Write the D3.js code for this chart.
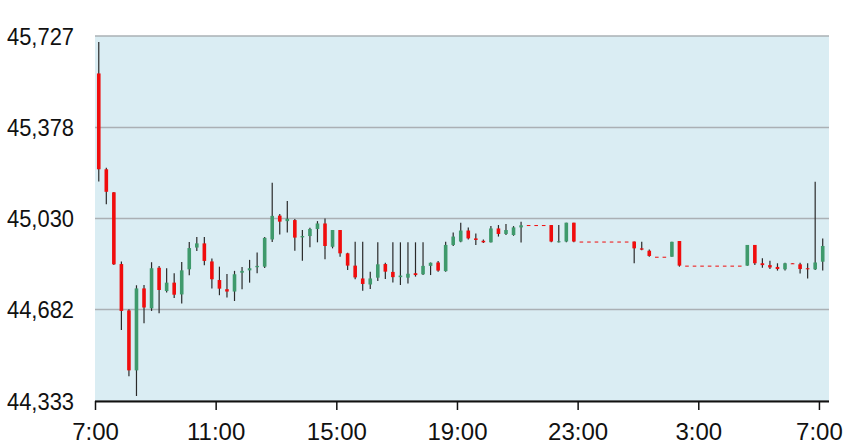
<!DOCTYPE html>
<html><head><meta charset="utf-8">
<script src="https://cdn.jsdelivr.net/npm/d3@7/dist/d3.min.js"></script>
<style>body{margin:0;background:#fff}svg{display:block}text{font-family:"Liberation Sans",Arial,sans-serif}</style>
</head><body><svg id="c" width="858" height="445"></svg>
<script>
const times = ["07:00","07:15","07:30","07:45","08:00","08:15","08:30","08:45","09:00","09:15","09:30","09:45",
"10:00","10:15","10:30","10:45","11:00","11:15","11:30","11:45","12:00","12:15","12:30","12:45",
"13:00","13:15","13:30","13:45","14:00","14:15","14:30","14:45","15:00","15:15","15:30","15:45",
"16:00","16:15","16:30","16:45","17:00","17:15","17:30","17:45","18:00","18:15","18:30","18:45",
"19:00","19:15","19:30","19:45","20:00","20:15","20:30","20:45","21:00","21:15","21:30","21:45",
"22:00","22:15","22:30","22:45","23:00","23:15","23:30","23:45","00:00","00:15","00:30","00:45",
"01:00","01:15","01:30","01:45","02:00","02:15","02:30","02:45","03:00","03:15","03:30","03:45",
"04:00","04:15","04:30","04:45","05:00","05:15","05:30","05:45","06:00","06:15","06:30","06:45","07:00"];
const open  = [45584,45218,45130,44856,44679,44450,44763,44687,44842,44753,44785,44740,44836,44919,44935,44866,44795,44760,44751,44823,44832,44844,44846,44950,
45041,45020,45024,44958,44963,44990,45011,44922,44986,44897,44850,44801,44778,44804,44856,44826,44806,44804,44821,44817,44849,44862,44829,44929,
44942,44984,44954,44945,44939,44992,44971,44967,44996,45005,45005,45005,45005,44940,44942,45014,44942,44942,44942,44942,44942,44942,44942,44942,
44916,44907,44884,44884,44884,44944,44850,44850,44850,44850,44850,44850,44850,44850,44850,44929,44859,44852,44845,44836,44859,44855,44840,44836,44865];
const high  = [45704,45224,45131,44866,44683,44775,44776,44863,44849,44840,44821,44864,44940,44959,44959,44877,44846,44818,44830,44845,44872,44900,44959,45167,
45047,45097,45028,44986,44995,45020,45030,44986,44986,44899,44941,44941,44827,44939,44861,44939,44939,44939,44939,44939,44862,44868,44941,44977,
45014,44996,44973,44950,45001,45005,45009,45001,45018,45005,45005,45005,45005,45005,45014,45014,44942,44942,44942,44942,44942,44942,44942,44942,
44941,44912,44884,44884,44941,44944,44850,44850,44850,44850,44850,44850,44850,44850,44929,44929,44878,44869,44859,44861,44859,44861,44859,45170,44954];
const low   = [45171,45084,44852,44604,44428,44352,44630,44677,44668,44747,44726,44705,44813,44906,44851,44763,44737,44728,44715,44760,44785,44821,44841,44940,
44969,44977,44907,44869,44920,44939,44874,44916,44884,44833,44798,44754,44761,44791,44799,44786,44776,44782,44808,44814,44814,44827,44827,44925,
44939,44950,44929,44936,44938,44961,44967,44964,44938,45005,45005,45005,44939,44938,44939,44939,44942,44942,44942,44942,44942,44942,44942,44859,
44909,44884,44884,44884,44884,44846,44850,44850,44850,44850,44850,44850,44850,44850,44850,44852,44842,44837,44831,44831,44857,44820,44801,44833,44831];
const close = [45218,45132,44855,44677,44450,44763,44690,44840,44757,44785,44739,44832,44917,44935,44868,44798,44762,44751,44817,44830,44840,44849,44956,45040,
45018,45029,44957,44963,44990,45011,44925,44986,44897,44850,44805,44780,44801,44855,44827,44806,44812,44819,44814,44849,44861,44831,44929,44961,
44984,44954,44948,44939,44992,44971,44986,44996,45004,45005,45005,45005,44942,44943,45014,44942,44942,44942,44942,44942,44942,44942,44942,44916,
44911,44887,44884,44884,44941,44850,44850,44850,44850,44850,44850,44850,44850,44850,44929,44859,44852,44843,44837,44859,44859,44837,44836,44862,44925];
const yTicks = [44333,44682,45030,45378,45727];
const xTickLabels = ["7:00","11:00","15:00","19:00","23:00","3:00","7:00"];

const M = {left:95, right:829, top:36, bottom:401};
const svg = d3.select("#c");
let day = 0, prevMin = -1;
const dates = times.map(t => {
  const [h,m] = t.split(":").map(Number);
  const mins = h*60+m;
  if (mins < prevMin) day++;
  prevMin = mins;
  return new Date(2024,0,1+day,h,m);
});
const t0 = dates[0];
const tEnd = new Date(2024,0,2,7,20);
const x = d3.scaleTime().domain([t0, tEnd]).range([M.left, M.right]);
const y = d3.scaleLinear().domain([44333,45727]).range([M.bottom, M.top]);

svg.append("rect").attr("x",M.left).attr("y",M.top).attr("width",M.right-M.left).attr("height",M.bottom-M.top).attr("fill","#daedf3");

svg.append("g").selectAll("line").data(yTicks).join("line")
  .attr("x1",M.left).attr("x2",M.right).attr("y1",d=>y(d)).attr("y2",d=>y(d))
  .attr("stroke","#aab0b4").attr("stroke-width",1.5);

svg.append("g").selectAll("text").data(yTicks).join("text")
  .attr("x",74).attr("y",d=>y(d)).attr("dy","0.36em").attr("text-anchor","end")
  .attr("font-size",24).attr("fill","#111").attr("textLength",67).attr("lengthAdjust","spacingAndGlyphs")
  .text(d=>d3.format(",")(d));

const half = 7.5*60*1000;
const bw = 3.6;
const data = dates.map((d,i)=>({t:new Date(+d+half), o:open[i], h:high[i], l:low[i], c:close[i]}));
const g = svg.append("g");
g.selectAll("line").data(data).join("line")
  .attr("x1",d=>x(d.t)).attr("x2",d=>x(d.t)).attr("y1",d=>y(d.h)).attr("y2",d=>y(d.l))
  .attr("stroke","#2a2a2a").attr("stroke-width",1.2);
g.selectAll("rect").data(data).join("rect")
  .attr("x",d=>x(d.t)-bw/2).attr("width",bw)
  .attr("y",d=>y(Math.max(d.o,d.c)))
  .attr("height",d=>Math.max(1,Math.abs(y(d.o)-y(d.c))))
  .attr("fill",d=>d.c>d.o ? "#3f9a6c" : "#f00d0d");

const xt = d3.range(xTickLabels.length).map(i=>d3.timeHour.offset(t0, i*4));
const ax = svg.append("g").attr("transform",`translate(0,${M.bottom})`)
  .call(d3.axisBottom(x).tickValues(xt).tickSize(9).tickPadding(13).tickFormat((d,i)=>xTickLabels[i]));
ax.select(".domain").attr("stroke","#111").attr("stroke-width",2).attr("d",`M${M.left},0.5H${M.right}`);
ax.selectAll(".tick line").attr("stroke","#111").attr("stroke-width",1.5);
ax.selectAll(".tick text").attr("font-size",24).attr("fill","#111").attr("font-family","Liberation Sans, Arial, sans-serif");
</script></body></html>
